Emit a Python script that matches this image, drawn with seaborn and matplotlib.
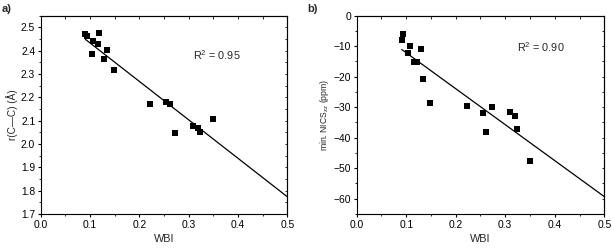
import numpy as np
import pandas as pd
import matplotlib
matplotlib.use("Agg")
import matplotlib.pyplot as plt
import seaborn as sns
from matplotlib.ticker import MultipleLocator

# WBI values (shared x for both panels)
wbi = [0.0905, 0.093, 0.107, 0.118, 0.116, 0.104, 0.134, 0.129, 0.149,
       0.221, 0.255, 0.262, 0.272, 0.350, 0.309, 0.319, 0.324]
# panel a: r(C-C) distances
r_cc = [2.470, 2.464, 2.441, 2.477, 2.427, 2.384, 2.401, 2.363, 2.318,
        2.173, 2.181, 2.171, 2.048, 2.106, 2.076, 2.070, 2.050]
# panel b: min. NICS_zz (WBI values read separately)
wbi_b = [0.094, 0.091, 0.108, 0.104, 0.130, 0.116, 0.121, 0.134, 0.149,
         0.222, 0.256, 0.2725, 0.262, 0.3095, 0.319, 0.324, 0.350]
nics = [-6.0, -8.0, -9.9, -12.3, -10.9, -15.1, -15.2, -20.6, -28.6,
        -29.7, -32.0, -30.0, -38.2, -31.7, -32.8, -37.2, -47.6]

# linear fits as printed in the figure (slope, intercept)
fit_a = [-1.648, 2.598]
fit_b = [-117.9, -0.35]
r2_labels = ["R$^2$ = 0.95", "R$^2$ = 0.90"]

sns.set_style("ticks")
plt.rcParams["font.family"] = ["Liberation Sans", "DejaVu Sans"]
plt.rcParams["mathtext.fontset"] = "custom"
plt.rcParams["mathtext.rm"] = "Liberation Sans"
plt.rcParams["mathtext.it"] = "Liberation Sans"

fig = plt.figure(figsize=(6.14, 2.52), dpi=100)
ax_a = fig.add_axes([0.0663, 0.1508, 0.4016, 0.7869])
ax_b = fig.add_axes([0.5809, 0.1508, 0.4033, 0.7869])


def style_axis(ax, ymin, ymax, ymaj, ymin_step):
    ax.set_xlim(0.0, 0.5)
    ax.set_ylim(ymin, ymax)
    ax.xaxis.set_major_locator(MultipleLocator(0.1))
    ax.xaxis.set_minor_locator(MultipleLocator(0.05))
    ax.yaxis.set_major_locator(MultipleLocator(ymaj))
    ax.yaxis.set_minor_locator(MultipleLocator(ymin_step))
    for s in ax.spines.values():
        s.set_visible(True)
        s.set_linewidth(0.8)
        s.set_color("black")
    ax.tick_params(which="major", direction="out", length=2.5, width=0.8,
                   labelsize=7.4, pad=1.5, colors="black")
    ax.tick_params(which="minor", direction="out", length=1.5, width=0.7)
    # inward ticks on top and right, Origin style
    top = ax.secondary_xaxis("top")
    top.xaxis.set_major_locator(MultipleLocator(0.1))
    top.xaxis.set_minor_locator(MultipleLocator(0.05))
    top.tick_params(which="both", direction="in", labeltop=False, length=1.8, width=0.7)
    top.spines["top"].set_linewidth(0.8)
    right = ax.secondary_yaxis("right")
    right.yaxis.set_major_locator(MultipleLocator(ymaj))
    right.yaxis.set_minor_locator(MultipleLocator(ymin_step))
    right.tick_params(which="both", direction="in", labelright=False, length=1.8, width=0.7)
    right.spines["right"].set_linewidth(0.8)


def draw_panel(ax, x, y, fit):
    df = pd.DataFrame({"x": x, "y": y})
    sns.scatterplot(data=df, x="x", y="y", ax=ax, marker="s", s=14,
                    color="black", edgecolor="black", linewidth=0, zorder=3)
    slope, icpt = fit
    line = pd.DataFrame({"x": [min(x), 0.5]})
    line["y"] = icpt + slope * line["x"]
    sns.lineplot(data=line, x="x", y="y", ax=ax, color="black", linewidth=0.9)


draw_panel(ax_a, wbi, r_cc, fit_a)
style_axis(ax_a, 1.7, 2.55, 0.1, 0.05)
ax_a.set_xlabel("WBI", fontsize=7.8, labelpad=3)
ax_a.set_ylabel("r(C\u2014C) (\u00c5)", fontsize=7.2, labelpad=2)
ax_a.text(0.616, 0.80, r2_labels[0], transform=ax_a.transAxes, fontsize=7.8,
          va="center", ha="left")

draw_panel(ax_b, wbi_b, nics, fit_b)
style_axis(ax_b, -65, 0, 10, 5)
ax_b.set_xlabel("WBI", fontsize=7.8, labelpad=3)
ax_b.set_ylabel("min. NICS$_{zz}$ (ppm)", fontsize=6.2, labelpad=2)
ax_b.text(0.648, 0.84, r2_labels[1], transform=ax_b.transAxes, fontsize=7.8,
          va="center", ha="left")

fig.text(0.003, 0.965, "a)", fontsize=8, fontweight="bold", va="center")
fig.text(0.5, 0.965, "b)", fontsize=8, fontweight="bold", va="center")

fig.savefig("out.png", dpi=100)
